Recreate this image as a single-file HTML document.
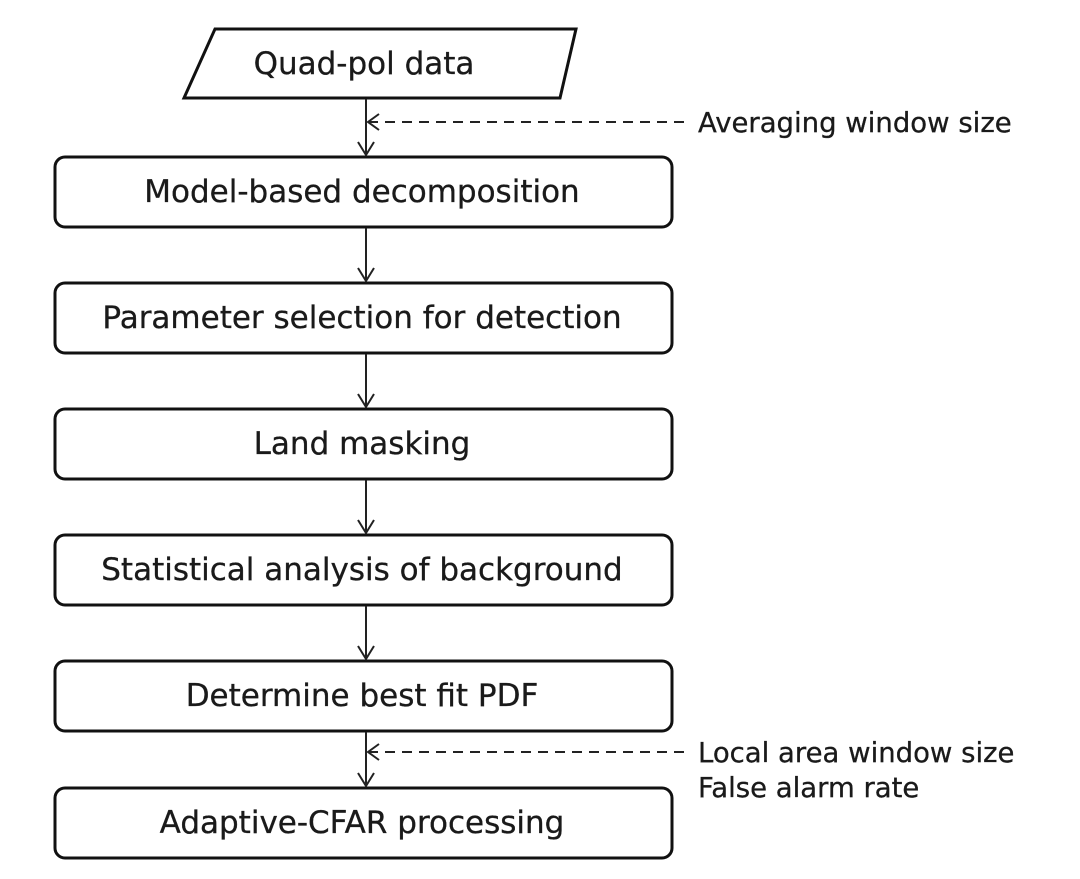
<!DOCTYPE html>
<html><head><meta charset="utf-8"><style>
body{margin:0;background:#fff}
svg text{font-family:"DejaVu Sans","Liberation Sans",sans-serif;fill:#1a1a1a;stroke:#1a1a1a;stroke-width:0.3}
</style></head><body>
<svg width="1080" height="874" viewBox="0 0 1080 874" xmlns="http://www.w3.org/2000/svg">
<g fill="none" stroke="#111" stroke-width="3">
<polygon points="215,29 576,29 560,98 184,98"/>
<rect x="55" y="157" width="617" height="70" rx="10"/>
<rect x="55" y="283" width="617" height="70" rx="10"/>
<rect x="55" y="409" width="617" height="70" rx="10"/>
<rect x="55" y="535" width="617" height="70" rx="10"/>
<rect x="55" y="661" width="617" height="70" rx="10"/>
<rect x="55" y="788" width="617" height="70" rx="10"/>
</g>
<g fill="none" stroke="#222" stroke-width="2">
<line x1="366" y1="99" x2="366" y2="155"/><polyline points="358,142 366,155 374,142"/>
<line x1="366" y1="228" x2="366" y2="281"/><polyline points="358,268 366,281 374,268"/>
<line x1="366" y1="354" x2="366" y2="407"/><polyline points="358,394 366,407 374,394"/>
<line x1="366" y1="480" x2="366" y2="533"/><polyline points="358,520 366,533 374,520"/>
<line x1="366" y1="606" x2="366" y2="659"/><polyline points="358,646 366,659 374,646"/>
<line x1="366" y1="732" x2="366" y2="786"/><polyline points="358,773 366,786 374,773"/>
<line x1="368" y1="122" x2="690" y2="122" stroke-dasharray="10,7"/><polyline points="379,114 368,122 379,130"/>
<line x1="368" y1="752" x2="690" y2="752" stroke-dasharray="10,7"/><polyline points="379,744 368,752 379,760"/>
</g>
<g font-size="31" text-anchor="middle">
<text x="364" y="74">Quad-pol data</text>
<text x="362" y="202">Model-based decomposition</text>
<text x="362" y="328">Parameter selection for detection</text>
<text x="362" y="454">Land masking</text>
<text x="362" y="580">Statistical analysis of background</text>
<text x="362" y="706">Determine best fit PDF</text>
<text x="362" y="833">Adaptive-CFAR processing</text>
</g>
<g font-size="27.5">
<text x="698" y="132">Averaging window size</text>
<text x="698" y="762">Local area window size</text>
<text x="698" y="797">False alarm rate</text>
</g>
</svg>
</body></html>
